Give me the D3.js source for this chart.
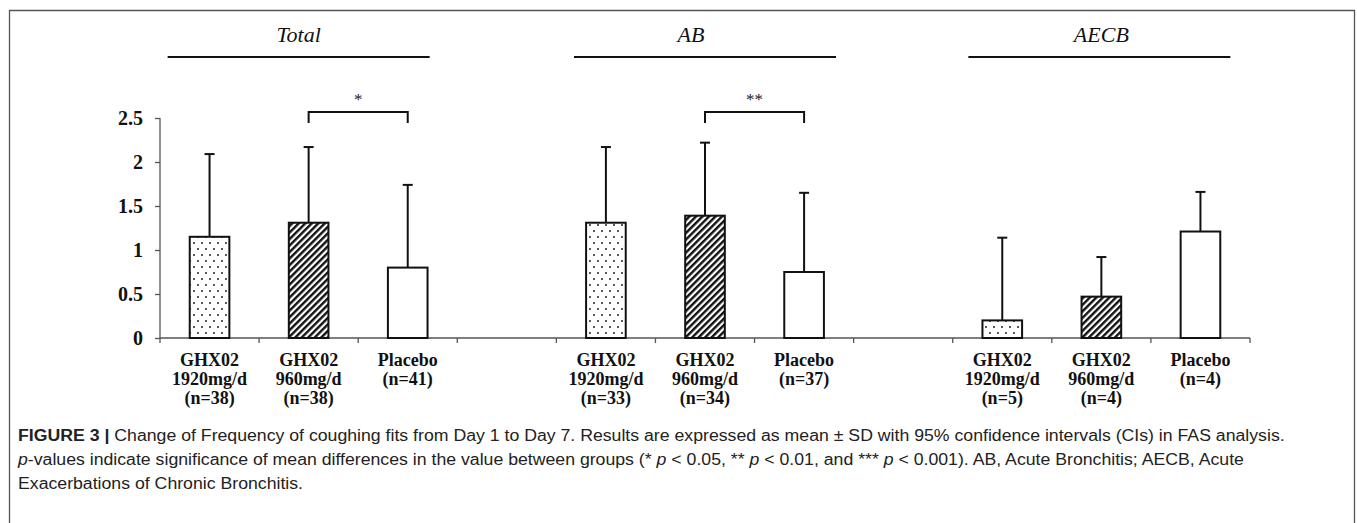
<!DOCTYPE html>
<html>
<head>
<meta charset="utf-8">
<script src="https://cdn.jsdelivr.net/npm/d3@7"></script>
<style>
  body { margin: 0; background: #fff; }
  svg { display: block; }
</style>
</head>
<body>
<div id="chart"></div>
<script>
const groups = ["Total", "AB", "AECB"];
const arms = ["GHX02 1920mg/d", "GHX02 960mg/d", "Placebo"];
const nLabels = [
  ["(n=38)", "(n=38)", "(n=41)"],
  ["(n=33)", "(n=34)", "(n=37)"],
  ["(n=5)", "(n=4)", "(n=4)"]
];
const means = [
  [1.15, 1.31, 0.80],
  [1.31, 1.39, 0.75],
  [0.20, 0.47, 1.21]
];
const sds = [
  [0.94, 0.86, 0.94],
  [0.86, 0.83, 0.90],
  [0.94, 0.45, 0.45]
];
const yTicks = [0, 0.5, 1, 1.5, 2, 2.5];
const yTickLabels = ["0", "0.5", "1", "1.5", "2", "2.5"];
// significance brackets: group, from arm, to arm, label
const sig = [
  { group: 0, from: 1, to: 2, label: "*" },
  { group: 1, from: 1, to: 2, label: "**" }
];

const width = 1357, height = 523;
const svg = d3.select("#chart").append("svg")
  .attr("width", width).attr("height", height);

const defs = svg.append("defs");
const dots = defs.append("pattern").attr("id", "dots")
  .attr("patternUnits", "userSpaceOnUse").attr("width", 8).attr("height", 12);
dots.append("rect").attr("width", 8).attr("height", 12).attr("fill", "#fff");
dots.append("circle").attr("cx", 2).attr("cy", 3).attr("r", 0.95).attr("fill", "#111");
dots.append("circle").attr("cx", 6).attr("cy", 9).attr("r", 0.95).attr("fill", "#111");

const hatch = defs.append("pattern").attr("id", "hatch")
  .attr("patternUnits", "userSpaceOnUse").attr("width", 4.6).attr("height", 5)
  .attr("patternTransform", "rotate(45)");
hatch.append("rect").attr("width", 4.6).attr("height", 5).attr("fill", "#fff");
hatch.append("rect").attr("x", 0).attr("width", 2.4).attr("height", 5).attr("fill", "#111");

const fills = ["url(#dots)", "url(#hatch)", "#fff"];

// frame
svg.append("path")
  .attr("d", `M9.5,${height}V10.5H1354.5V${height}`)
  .attr("fill", "none").attr("stroke", "#555").attr("stroke-width", 1.3);

// slots: 3 arms per group with one empty slot between groups
const slots = d3.range(11);
const x = d3.scaleBand().domain(slots).range([160, 1250])
  .paddingInner(0.6).paddingOuter(0.3);
const step = x.step();
const slotOf = (g, a) => g * 4 + a;
const cx = s => x(s) + x.bandwidth() / 2;

const y = d3.scaleLinear().domain([0, 2.5]).range([338, 118]);

const serif = "'Liberation Serif', 'Times New Roman', serif";

// y axis
const yAxis = svg.append("g").attr("transform", "translate(160,0)")
  .call(d3.axisLeft(y).tickValues(yTicks).tickSize(5)
    .tickFormat((d, i) => yTickLabels[i]));
yAxis.select(".domain").attr("stroke", "#555").attr("stroke-width", 1.3)
  .attr("d", `M0,${y(2.5)}V${y(0)}`);
yAxis.selectAll(".tick line").attr("stroke", "#555").attr("stroke-width", 1.3);
yAxis.selectAll(".tick text")
  .attr("x", -17)
  .attr("font-family", serif).attr("font-weight", "bold")
  .attr("font-size", 20).attr("fill", "#111");

// x axis with boundary ticks
const xAxisG = svg.append("g");
xAxisG.append("line")
  .attr("x1", 160).attr("x2", 1250).attr("y1", y(0)).attr("y2", y(0))
  .attr("stroke", "#555").attr("stroke-width", 1.3);
xAxisG.selectAll("line.tk").data(d3.range(12)).join("line")
  .attr("class", "tk")
  .attr("x1", i => 160 + i * step).attr("x2", i => 160 + i * step)
  .attr("y1", y(0)).attr("y2", y(0) + 5)
  .attr("stroke", "#555").attr("stroke-width", 1.3);

// bars data
const bars = [];
groups.forEach((g, gi) => {
  arms.forEach((a, ai) => {
    bars.push({ gi, ai, slot: slotOf(gi, ai), mean: means[gi][ai], sd: sds[gi][ai] });
  });
});

// error bars (upper only)
const err = svg.append("g").attr("stroke", "#111").attr("stroke-width", 2);
err.selectAll("line.v").data(bars).join("line").attr("class", "v")
  .attr("x1", d => cx(d.slot)).attr("x2", d => cx(d.slot))
  .attr("y1", d => y(d.mean)).attr("y2", d => y(d.mean + d.sd));
err.selectAll("line.c").data(bars).join("line").attr("class", "c")
  .attr("x1", d => cx(d.slot) - 5).attr("x2", d => cx(d.slot) + 5)
  .attr("y1", d => y(d.mean + d.sd)).attr("y2", d => y(d.mean + d.sd));

svg.append("g").selectAll("rect").data(bars).join("rect")
  .attr("x", d => x(d.slot)).attr("width", x.bandwidth())
  .attr("y", d => y(d.mean)).attr("height", d => y(0) - y(d.mean))
  .attr("fill", d => fills[d.ai])
  .attr("stroke", "#111").attr("stroke-width", 2);

// category labels
const lab = svg.append("g").attr("font-family", serif).attr("font-weight", "bold")
  .attr("font-size", 18).attr("fill", "#111").attr("text-anchor", "middle");
bars.forEach(d => {
  const parts = arms[d.ai].split(" ");
  const lines = parts.length > 1 ? [parts[0], parts[1], nLabels[d.gi][d.ai]] : [parts[0], nLabels[d.gi][d.ai]];
  const t = lab.append("text").attr("x", cx(d.slot)).attr("y", 366);
  lines.forEach((l, i) => t.append("tspan").attr("x", cx(d.slot)).attr("dy", i ? 19 : 0).text(l));
});

// group headers
const headLineDx = [-10, 0, -2];
const headTextDx = [-10, -14, 0];
const hdr = svg.append("g");
groups.forEach((g, gi) => {
  const c = cx(slotOf(gi, 1));
  hdr.append("line")
    .attr("x1", c + headLineDx[gi] - 131).attr("x2", c + headLineDx[gi] + 131)
    .attr("y1", 57).attr("y2", 57)
    .attr("stroke", "#111").attr("stroke-width", 2);
  hdr.append("text")
    .attr("x", c + headTextDx[gi]).attr("y", 42)
    .attr("text-anchor", "middle")
    .attr("font-family", serif).attr("font-style", "italic")
    .attr("font-size", 22).attr("fill", "#111")
    .text(g);
});

// significance brackets
const sg = svg.append("g");
sig.forEach(s => {
  const x1 = cx(slotOf(s.group, s.from)), x2 = cx(slotOf(s.group, s.to));
  const top = y(2.5) - 6;
  sg.append("path")
    .attr("d", `M${x1},${top + 11}V${top}H${x2}V${top + 11}`)
    .attr("fill", "none").attr("stroke", "#111").attr("stroke-width", 2);
  sg.append("text")
    .attr("x", (x1 + x2) / 2).attr("y", top - 7)
    .attr("text-anchor", "middle")
    .attr("font-family", serif).attr("font-size", 17).attr("fill", "#222")
    .text(s.label);
});

// caption
const cap = svg.append("g")
  .attr("font-family", "'Liberation Sans Narrow', 'Liberation Sans', Arial, sans-serif")
  .attr("font-size", 16).attr("fill", "#222");
const l1 = cap.append("text").attr("x", 0).attr("y", 441);
l1.append("tspan").attr("font-weight", "bold").text("FIGURE 3 | ");
l1.append("tspan").text("Change of Frequency of coughing fits from Day 1 to Day 7. Results are expressed as mean \u00b1 SD with 95% confidence intervals (CIs) in FAS analysis.");
const l2 = cap.append("text").attr("x", 0).attr("y", 465);
[["p", true], ["-values indicate significance of mean differences in the value between groups (* ", false],
 ["p", true], [" < 0.05, ** ", false], ["p", true], [" < 0.01, and *** ", false], ["p", true],
 [" < 0.001). AB, Acute Bronchitis; AECB, Acute", false]].forEach(([t, it]) => {
  l2.append("tspan").attr("font-style", it ? "italic" : null).text(t);
});
cap.append("text").attr("x", 0).attr("y", 489).text("Exacerbations of Chronic Bronchitis.");

const w1 = l1.node().getComputedTextLength();
const sx = (1285 - 18) / w1;
cap.attr("transform", `translate(18,0) scale(${sx},1)`);
</script>
</body>
</html>
